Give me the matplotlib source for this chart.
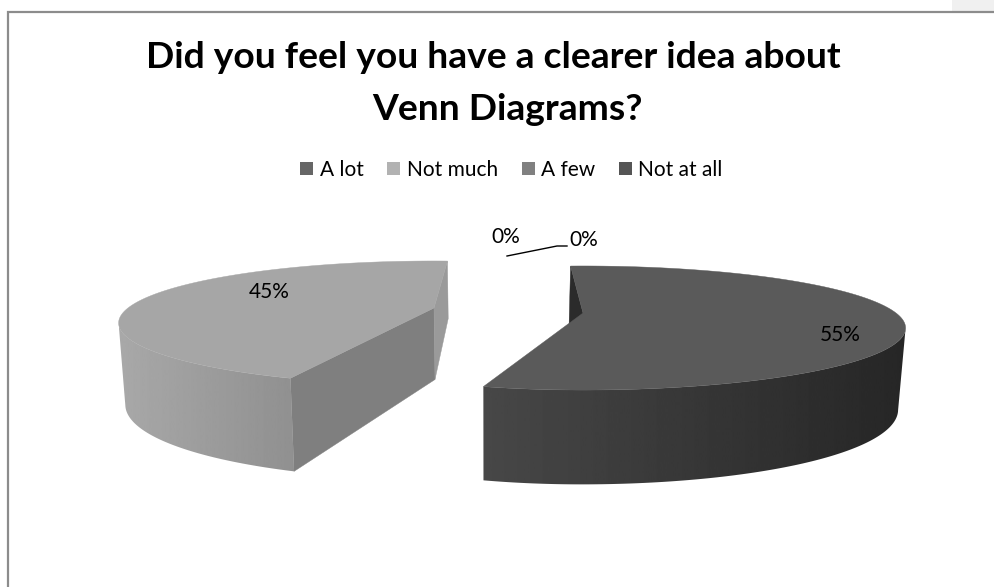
#!/usr/bin/env python3

import matplotlib
matplotlib.use("Agg")
import matplotlib.pyplot as plt
from matplotlib.patches import Patch, Polygon, Rectangle
import numpy as np

title_lines = ["Did you feel you have a clearer idea about", "Venn Diagrams?"]
categories = ["A lot", "Not much", "A few", "Not at all"]
values = [55, 45, 0, 0]
legend_colors = ["#666666", "#b2b2b2", "#808080", "#555555"]

PERSPECTIVE = 0.242


def project(cx, cy, theta, rx, r = 1.0, lower = False):
  # theta in degrees, clockwise from the back of the pie
  # rx = (scale right of the centre, scale left of the centre)
  ry, depth = 58.4, 71.5
  u = r * np.sin(np.radians(theta))
  v = r * np.cos(np.radians(theta))
  d = 1 + PERSPECTIVE * v
  x = cx + np.where(u > 0, rx[0], rx[1]) * u / d
  y = cy - ry * v / d
  if lower:
    # bottom edge bulges a little more at the sides of the front
    y = y + depth / d + 6 * u * u * (v < 0)
    x = x + 0.018 * (490 - x)
  return np.column_stack([x, y])


def draw_slice(ax, cx, cy, start, share, rx, top, rim0, rim1, side_faces):
  end = start + share * 360.0
  angles = np.linspace(start, end, 300)
  top_arc = project(cx, cy, angles, rx)
  low_arc = project(cx, cy, angles, rx, lower = True)
  one = np.array([0.0])
  centre = project(cx, cy, one, rx, r = 0.0)
  centre_low = project(cx, cy, one, rx, r = 0.0, lower = True)

  # cut faces first, the top covers whatever it overlaps
  for theta, color in side_faces:
    a = project(cx, cy, np.array([theta]), rx)
    b = project(cx, cy, np.array([theta]), rx, lower = True)
    ax.add_patch(Polygon(np.vstack([a, centre, centre_low, b]),
                         facecolor = color, edgecolor = color, lw = 0.3, zorder = 2))

  # outer rim: horizontal gradient clipped to the arc in front of the widest point
  front = np.cos(np.radians(angles)) <= -PERSPECTIVE
  outline = np.vstack([top_arc[front], low_arc[front][::-1]])
  clip = Polygon(outline, transform = ax.transData)
  grad = np.linspace(rim0, rim1, 256).reshape(1, -1)
  im = ax.imshow(grad, cmap = "gray", vmin = 0, vmax = 1, aspect = "auto", zorder = 3,
                 extent = (outline[:, 0].min(), outline[:, 0].max(), 587, 0))
  im.set_clip_path(clip)

  ax.add_patch(Polygon(np.vstack([centre, top_arc]), facecolor = top,
                       edgecolor = top, lw = 0.3, zorder = 4))


fig = plt.figure(figsize = (9.94, 5.87), dpi = 100)
ax = fig.add_axes([0, 0, 1, 1])
ax.axis("off")

# chart frame and the grey corner above it
ax.add_patch(Rectangle((952, 0), 42, 11, facecolor = "#f0f0f0", edgecolor = "none"))
ax.plot([7.5, 7.5, 994], [587, 12, 12], color = "#8c8c8c", lw = 1.6, solid_joinstyle = "miter")

# second title line sits off-centre in the original
ax.text(493.5, 68, title_lines[0], ha = "center", va = "baseline", fontsize = 26.8,
        fontweight = "bold", family = "Lato", color = "black")
ax.text(507, 120, title_lines[1], ha = "center", va = "baseline", fontsize = 26.8,
        fontweight = "bold", family = "Lato", color = "black")

draw_slice(ax, 583, 313, -3.0, values[0] / 100, (313, 295), "#5a5a5a",
           0.28, 0.15, [(-3.0, "#2b2b2b")])
draw_slice(ax, 434, 308, 201.3, values[1] / 100, (290, 306), "#a6a6a6",
           0.66, 0.565, [(201.3, "#7f7f7f"), (363.3, "#9a9a9a")])

ax.text(269, 292, "%d%%" % values[1], ha = "center", va = "center", fontsize = 15, family = "Lato", zorder = 5)
ax.text(840, 335, "%d%%" % values[0], ha = "center", va = "center", fontsize = 15, family = "Lato", zorder = 5)
ax.text(506, 237, "%d%%" % values[2], ha = "center", va = "center", fontsize = 15, family = "Lato")
ax.text(584, 240, "%d%%" % values[3], ha = "center", va = "center", fontsize = 15, family = "Lato")
ax.plot([507, 557, 567], [256, 246, 246], color = "black", lw = 1.0)

handles = [Patch(facecolor = c, edgecolor = "none") for c in legend_colors]
ax.legend(handles, categories, ncol = 4, loc = "center", bbox_to_anchor = (0.5145, 0.711),
          frameon = False, prop = {"family": "Lato", "size": 15}, handlelength = 0.62,
          handleheight = 0.62, handletextpad = 0.3, columnspacing = 1.15)

ax.set_xlim(0, 994)
ax.set_ylim(587, 0)
fig.savefig("out.png", dpi = 100)
